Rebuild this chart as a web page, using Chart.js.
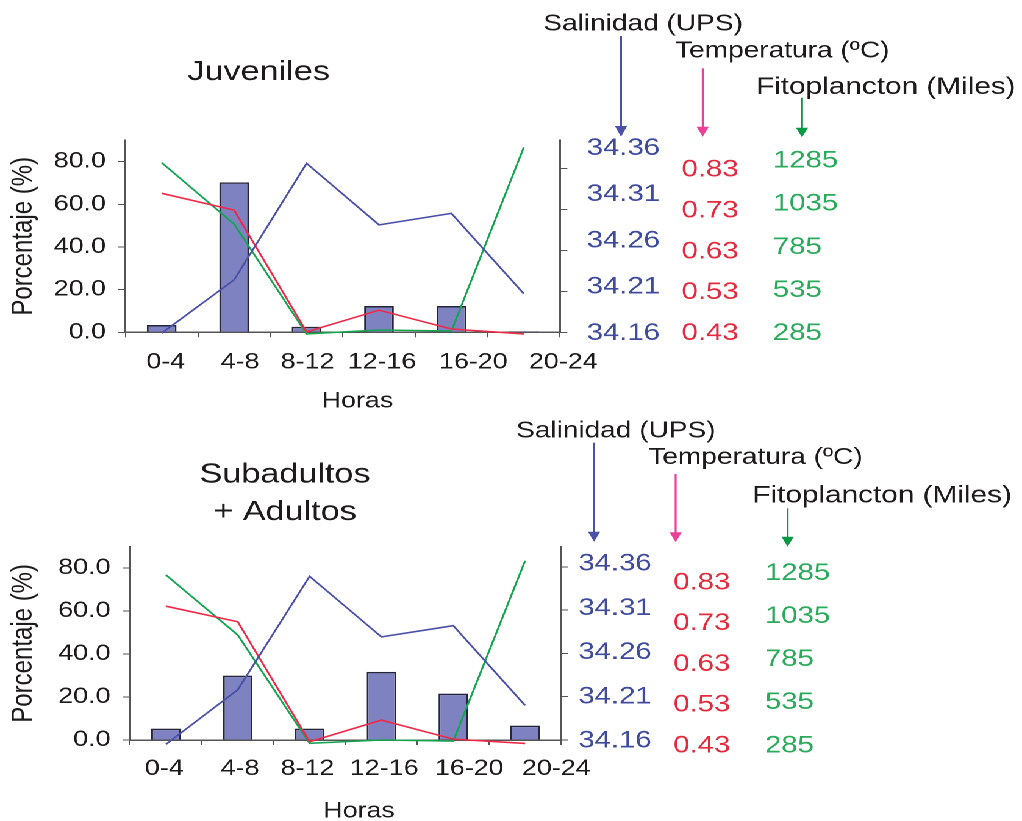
<!DOCTYPE html>
<html>
<head>
<meta charset="utf-8">
<script src="https://cdn.jsdelivr.net/npm/chart.js@4/dist/chart.umd.min.js"></script>
<style>
  html, body { margin: 0; padding: 0; background: #fff; overflow: hidden; width: 1022px; height: 821px; }
  /* the reference figure is stretched horizontally, so the whole drawing is too */
  #wrap { position: absolute; left: 0; top: 0; width: 838px; height: 821px; transform: scaleX(1.2196); transform-origin: 0 0; }
  #wrap canvas { position: absolute; left: 0; }
</style>
</head>
<body>
<div id="wrap">
  <canvas id="juv" width="838" height="420" style="top:0;width:838px;height:420px"></canvas>
  <canvas id="adu" width="838" height="401" style="top:420px;width:838px;height:401px"></canvas>
</div>
<script>
const hours = ["0-4", "4-8", "8-12", "12-16", "16-20", "20-24"];

// Juveniles
const pctJuv = [3.4, 70.3, 2.6, 12.3, 12.3, 0.5];
const salJuv = [34.159, 34.224, 34.366, 34.291, 34.305, 34.207];
const tempJuv = [0.769, 0.728, 0.431, 0.484, 0.438, 0.426];
const phytoJuv = [1319, 945, 275, 299, 293, 1413];

// Subadultos + Adultos
const pctAdu = [5.3, 30.0, 5.3, 31.7, 21.6, 6.7];
const salAdu = [34.155, 34.218, 34.349, 34.279, 34.292, 34.200];
const tempAdu = [0.739, 0.703, 0.426, 0.476, 0.432, 0.422];
const phytoAdu = [1238, 891, 266, 285, 279, 1320];

const pctTicks = [0, 20, 40, 60, 80];
const salTicks = [34.16, 34.21, 34.26, 34.31, 34.36];
const tempTicks = [0.43, 0.53, 0.63, 0.73, 0.83];
const phytoTicks = [285, 535, 785, 1035, 1285];

const FONT = "'Liberation Sans', Arial, sans-serif";
Chart.defaults.font.family = FONT;
Chart.defaults.color = "#1c1a1b";

const BLUE_LINE = "#4b50a8", BLUE_TXT = "#3f4c9e";
const RED_LINE = "#ef2a48", RED_TXT = "#e62a3d";
const GREEN_LINE = "#14a550", GREEN_TXT = "#2baa5c";
const PINK = "#ec3f98", GREEN_ARROW = "#079a44";
const AXIS = "#555";

function setTicks(values) {
  return (scale) => { scale.ticks = values.map(v => ({ value: v })); };
}

function notesPlugin(g) {
  return {
    id: "notes",
    afterDraw(chart) {
      const ctx = chart.ctx;
      const x = chart.scales.x;
      ctx.save();
      ctx.fillStyle = "#1c1a1b";
      ctx.textBaseline = "alphabetic";
      ctx.textAlign = "center";
      ctx.font = "22px " + FONT;
      hours.forEach((h, i) => ctx.fillText(h, x.getPixelForValue(i) + g.labelShift[i], g.labelBase));
      ctx.fillText("Horas", g.horas[0], g.horas[1]);

      ctx.font = "28px " + FONT;
      g.titles.forEach(t => ctx.fillText(t[0], t[1], t[2]));

      ctx.textAlign = "left";
      g.heads.forEach(t => {
        ctx.font = t[3] + "px " + FONT;
        ctx.fillText(t[0], t[1], t[2]);
      });

      g.arrows.forEach(a => {
        const [ax, y0, yHead, yTip, col] = a;
        ctx.strokeStyle = col;
        ctx.fillStyle = col;
        ctx.lineWidth = 1.6;
        ctx.beginPath();
        ctx.moveTo(ax, y0);
        ctx.lineTo(ax, yHead + 1);
        ctx.stroke();
        ctx.beginPath();
        ctx.moveTo(ax - 5, yHead);
        ctx.lineTo(ax + 5, yHead);
        ctx.lineTo(ax, yTip);
        ctx.closePath();
        ctx.fill();
      });
      ctx.restore();
    }
  };
}

function lineSet(values, axis, color, order) {
  return {
    type: "line", data: values, yAxisID: axis, borderColor: color,
    borderWidth: 1.6, pointRadius: 0, tension: 0, clip: false, order: order
  };
}

function labelAxis(weight, range, ticks, labels, color, width) {
  return {
    type: "linear", position: "right", weight: weight,
    min: range[0], max: range[1],
    grid: { display: false, drawTicks: false },
    border: { display: false },
    afterBuildTicks: setTicks(ticks),
    ticks: {
      color: color, font: { size: 24 }, padding: 0, autoSkip: false,
      callback: (v, i) => labels[i]
    },
    afterFit: (s) => { s.width = width; }
  };
}

function makeChart(id, d, g) {
  return new Chart(document.getElementById(id), {
    type: "bar",
    data: {
      labels: hours,
      datasets: [
        lineSet(d.sal, "ySal", BLUE_LINE, 1),
        lineSet(d.temp, "yTemp", RED_LINE, 2),
        lineSet(d.phyto, "yPhy", GREEN_LINE, 3),
        {
          type: "bar", data: d.pct, yAxisID: "y",
          backgroundColor: "#7e82c1", borderColor: "#26263a", borderWidth: 1.5,
          categoryPercentage: 1, barPercentage: 0.41, clip: false, order: 4
        }
      ]
    },
    options: {
      responsive: false,
      animation: false,
      devicePixelRatio: 2,
      layout: { padding: { left: 0, top: g.top, right: g.padRight, bottom: 0 } },
      plugins: { legend: { display: false }, tooltip: { enabled: false } },
      scales: {
        x: {
          type: "category", offset: true,
          grid: { display: true, drawOnChartArea: false, drawTicks: true, tickLength: 5, offset: true, color: AXIS },
          border: { color: AXIS, width: 1.5 },
          ticks: { display: false },
          afterFit: (s) => { s.height = g.xH; }
        },
        y: {
          type: "linear", position: "left", min: 0, max: 90,
          afterBuildTicks: setTicks(pctTicks),
          grid: { drawOnChartArea: false, tickLength: 6, color: AXIS },
          border: { color: AXIS, width: 1.5 },
          ticks: { font: { size: 22 }, padding: 10, autoSkip: false, callback: v => v.toFixed(1) },
          title: { display: true, text: "Porcentaje (%)", font: { size: 24 }, padding: { top: 5, bottom: 0 } },
          afterFit: (s) => { s.width = g.yW; }
        },
        ySal: {
          type: "linear", position: "right", weight: 1, min: 34.16, max: g.salMax,
          afterBuildTicks: setTicks(salTicks),
          grid: { drawOnChartArea: false, tickLength: 6, color: AXIS },
          border: { color: AXIS, width: 1.5 },
          ticks: { display: false },
          afterFit: (s) => { s.width = g.salW; }
        },
        yTemp: { type: "linear", display: false, min: 0.43, max: g.tempMax },
        yPhy: { type: "linear", display: false, min: 285, max: g.phyMax },
        sLab: labelAxis(2, g.sLab, salTicks, salTicks.map(v => v.toFixed(2)), BLUE_TXT, g.sLabW),
        tLab: labelAxis(3, g.tLab, tempTicks, tempTicks.map(v => v.toFixed(2)), RED_TXT, g.tLabW),
        pLab: labelAxis(4, g.pLab, phytoTicks, phytoTicks.map(v => String(v)), GREEN_TXT, g.pLabW)
      }
    },
    plugins: [notesPlugin(g)]
  });
}

makeChart("juv",
  { pct: pctJuv, sal: salJuv, temp: tempJuv, phyto: phytoJuv },
  {
    top: 140.3, padRight: 144.2, yW: 102.9, xH: 87.7,
    salW: 21.9, sLabW: 77.8, tLabW: 74.9, pLabW: 60,
    salMax: 34.3941, tempMax: 0.8983, phyMax: 1455.7,
    sLab: [34.1611, 34.3687], tLab: [0.4324, 0.9027], pLab: [290.8, 1405.1],
    labelShift: [3.3, 4.9, 0.8, 2.5, 18, 32.3], labelBase: 368.3,
    horas: [293.1, 407.5],
    titles: [["Juveniles", 212.1, 80]],
    heads: [["Salinidad (UPS)", 445.5, 30.7, 23], ["Temperatura (ºC)", 553.5, 57.3, 23], ["Fitoplancton (Miles) (cél/l)", 619.9, 94, 24.4]],
    arrows: [[509.2, 36, 126, 136.7, BLUE_LINE], [576.2, 68.3, 126.7, 136.7, PINK], [657.6, 97.7, 127.7, 137.3, GREEN_ARROW]]
  });

makeChart("adu",
  { pct: pctAdu, sal: salAdu, temp: tempAdu, phyto: phytoAdu },
  {
    top: 126.7, padRight: 150.7, yW: 106.6, xH: 81,
    salW: 14.2, sLabW: 77.9, tLabW: 75.2, pLabW: 60,
    salMax: 34.3832, tempMax: 0.8764, phyMax: 1401,
    sLab: [34.1611, 34.3795], tLab: [0.444, 0.9184], pLab: [318.1, 1439.3],
    labelShift: [-1.4, 1.9, -1.7, 2.3, 13.1, 25.6], labelBase: 355,
    horas: [294.4, 397.5],
    titles: [["Subadultos", 233.7, 62.7], ["+ Adultos", 233.7, 100]],
    heads: [["Salinidad (UPS)", 423.1, 17.3, 23], ["Temperatura (ºC)", 531.6, 44, 23], ["Fitoplancton (Miles) (cél/l)", 616.9, 82.7, 24.4]],
    arrows: [[487.1, 22.7, 111.7, 121.7, BLUE_LINE], [554, 54, 112.3, 122.3, PINK], [645.8, 88.3, 116.7, 126.7, GREEN_ARROW]]
  });
</script>
</body>
</html>
